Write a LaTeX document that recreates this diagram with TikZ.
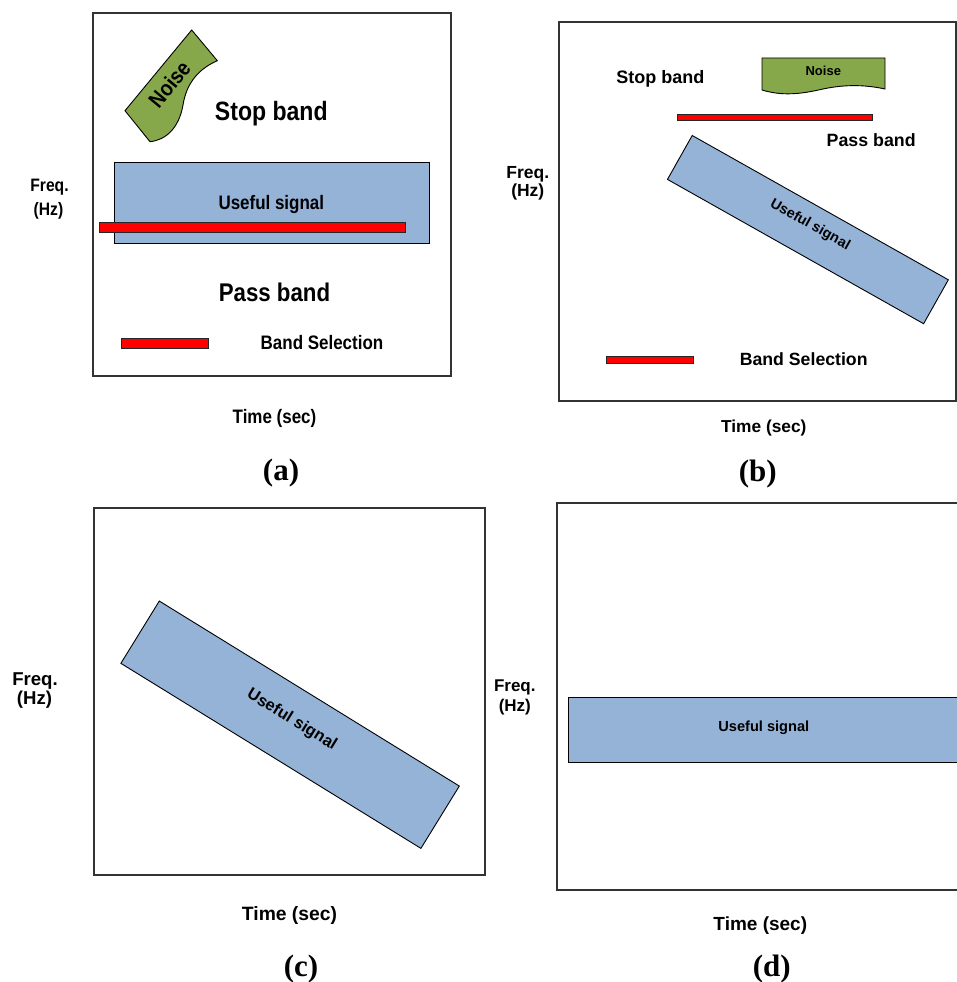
\documentclass[tikz,border=0pt]{standalone}
\usepackage{fontspec}
\setmainfont{Liberation Sans}
\newfontfamily\narrowf[FakeStretch=0.87]{Liberation Sans}
\newfontfamily\serifb{Liberation Serif}
\definecolor{sigblue}{RGB}{149,179,215}
\definecolor{noisegreen}{RGB}{134,167,74}
\definecolor{selred}{RGB}{255,0,0}
\newcommand\fsz[1]{\fontsize{#1}{#1}\selectfont}
\tikzset{
  panel/.style={draw=black!80, line width=1.2pt, inner sep=0pt},
  sig/.style={draw=black, fill=sigblue, line width=0.9pt, inner sep=0pt},
  selbar/.style={draw=black!85, fill=selred, line width=0.8pt, inner sep=0pt},
  noisef/.style={draw=black, fill=noisegreen, line width=0.9pt},
  lbl/.style={inner sep=0pt, anchor=base},
  nlbl/.style={lbl, font=\narrowf\bfseries},
  slbl/.style={lbl, font=\bfseries},
  caplbl/.style={lbl, font=\serifb\bfseries\fsz{31}},
}
\begin{document}
\begin{tikzpicture}[x=1pt, y=-1pt]
\useasboundingbox (0,0) rectangle (957,982);

% ---------------- panel (a)
\node[panel, minimum width=358pt, minimum height=363pt] (pa) at (272,194.5) {};
\filldraw[noisef] (125,110.7) -- (191.7,30) -- (217.3,60.7)
   .. controls (196,70) and (186,86) .. (183,105)
   .. controls (179,128) and (166,140) .. (150,141.7) -- cycle;
\node[inner sep=0pt, rotate=50.4, font=\narrowf\bfseries\fsz{22}] (noisea) at (169.3,84) {Noise};
\node[nlbl, font=\narrowf\bfseries\fsz{26.5}] (stopa) at (271.3,120.7) {Stop band};
\node[sig, minimum width=315pt, minimum height=81pt] (siga) at (271.5,202.5) {};
\node[nlbl, font=\narrowf\bfseries\fsz{19.5}] (sigtxta) at (271.3,209) {Useful signal};
\node[selbar, minimum width=306pt, minimum height=10pt] (bara) at (252,227) {};
\node[nlbl, font=\narrowf\bfseries\fsz{25.6}] (passa) at (274.5,301.7) {Pass band};
\node[selbar, minimum width=87pt, minimum height=10pt] (lega) at (164.5,343) {};
\node[nlbl, font=\narrowf\bfseries\fsz{19.5}] (bsa) at (322,349) {Band Selection};
\node[nlbl, font=\narrowf\bfseries\fsz{18}] (fa1) at (49.5,191.7) {Freq.};
\node[nlbl, font=\narrowf\bfseries\fsz{18}] (fa2) at (48.5,215.3) {(Hz)};
\node[nlbl, font=\narrowf\bfseries\fsz{19.5}] (ta) at (274.5,423.3) {Time (sec)};
\node[caplbl] (capa) at (281,480) {(a)};

% ---------------- panel (b)
\node[panel, minimum width=397pt, minimum height=379pt] (pb) at (757.5,211.5) {};
\filldraw[noisef] (762,58) -- (885,58) -- (885,89)
   .. controls (862,84) and (842,85) .. (823,89)
   .. controls (805,93) and (785,97) .. (762,90) -- cycle;
\node[slbl, font=\bfseries\fsz{13}] (noiseb) at (823.3,75) {Noise};
\node[slbl, font=\bfseries\fsz{18}] (stopb) at (660.3,84) {Stop band};
\node[selbar, minimum width=195pt, minimum height=6pt] (barb) at (774.5,117) {};
\node[slbl, font=\bfseries\fsz{17.8}] (passb) at (871.2,146.7) {Pass band};
\node[sig, minimum width=294pt, minimum height=50.4pt, rotate=-29.4] (sigb) at (807.9,229.6) {};
\node[inner sep=0pt, rotate=-29.4, font=\bfseries\fsz{14.3}] (sigtxtb) at (810,225) {Useful signal};
\node[selbar, minimum width=87pt, minimum height=7pt] (legb) at (649.5,359.5) {};
\node[slbl, font=\bfseries\fsz{17.7}] (bsb) at (803.7,365) {Band Selection};
\node[slbl, font=\bfseries\fsz{17.5}] (fb1) at (527.8,178.3) {Freq.};
\node[slbl, font=\bfseries\fsz{17.5}] (fb2) at (527.8,196) {(Hz)};
\node[slbl, font=\bfseries\fsz{17.3}] (tb) at (763.8,432.7) {Time (sec)};
\node[caplbl] (capb) at (757.7,481) {(b)};

% ---------------- panel (c)
\node[panel, minimum width=391pt, minimum height=367pt] (pc) at (289.5,691.5) {};
\node[sig, minimum width=352.5pt, minimum height=73.2pt, rotate=-31.66] (sigc) at (290.1,724.7) {};
\node[inner sep=0pt, rotate=-31.66, font=\bfseries\fsz{16.4}] (sigtxtc) at (291.7,720) {Useful signal};
\node[slbl, font=\bfseries\fsz{18.6}] (fc1) at (35,685) {Freq.};
\node[slbl, font=\bfseries\fsz{18.6}] (fc2) at (34.5,704.5) {(Hz)};
\node[slbl, font=\bfseries\fsz{19.3}] (tc) at (289.5,920) {Time (sec)};
\node[caplbl] (capc) at (301,976) {(c)};

% ---------------- panel (d)
\node[panel, minimum width=405pt, minimum height=387pt] (pd) at (759.5,696.5) {};
\node[sig, minimum width=397pt, minimum height=65pt] (sigd) at (766.5,729.5) {};
\node[slbl, font=\bfseries\fsz{14.6}] (sigtxtd) at (763.8,731) {Useful signal};
\node[slbl, font=\bfseries\fsz{17}] (fd1) at (514.8,691.7) {Freq.};
\node[slbl, font=\bfseries\fsz{17}] (fd2) at (514.8,711.5) {(Hz)};
\node[slbl, font=\bfseries\fsz{19}] (td) at (760.3,930) {Time (sec)};
\node[caplbl] (capd) at (771.7,976) {(d)};
\end{tikzpicture}
\end{document}
